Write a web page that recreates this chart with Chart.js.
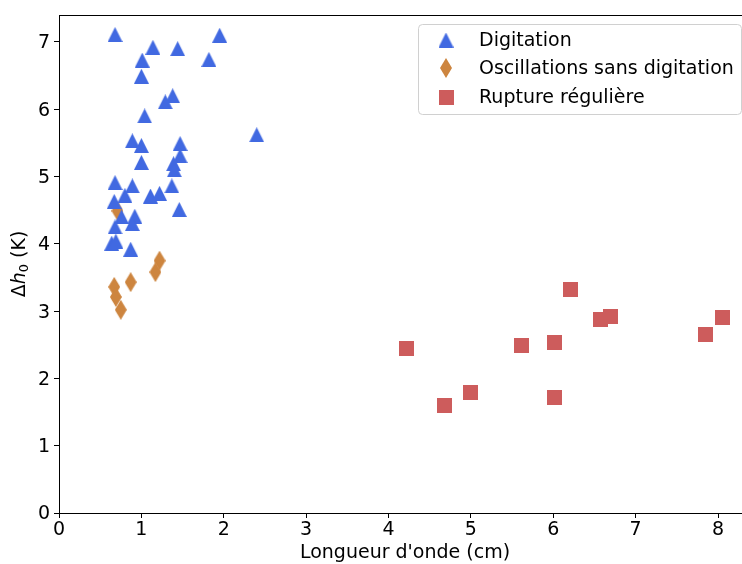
<!DOCTYPE html>
<html><head><meta charset="utf-8">
<script src="https://cdn.jsdelivr.net/npm/chart.js@4/dist/chart.umd.min.js"></script>
<style>html,body{margin:0;padding:0;background:#fff;overflow:hidden}canvas{display:block}</style>
</head><body><canvas id="c" width="742" height="564" style="width:742px;height:564px"></canvas>
<script>
const seriesLabels = ["Digitation", "Oscillations sans digitation", "Rupture régulière"];
const seriesColors = ["#4169E1", "#CD853F", "#CD5C5C"];

const digitationX = [0.68,1.95,1.14,1.44,1.01,1.82,1.00,1.38,1.29,1.04,2.40,0.89,1.00,1.47,1.47,1.00,1.39,1.40,0.68,0.89,1.37,0.80,1.11,1.22,0.67,1.46,0.76,0.92,0.89,0.68,0.64,0.69,0.87];
const digitationY = [7.11,7.10,6.92,6.90,6.73,6.74,6.49,6.20,6.11,5.90,5.62,5.53,5.46,5.49,5.31,5.21,5.19,5.10,4.91,4.86,4.86,4.72,4.71,4.75,4.63,4.51,4.40,4.41,4.30,4.25,4.01,4.04,3.92];

const oscX = [0.71,1.22,1.17,0.87,0.67,0.69,0.75];
const oscY = [4.49,3.75,3.58,3.43,3.36,3.21,3.02];

const ruptureX = [4.22,4.68,5.00,5.62,6.02,6.02,6.21,6.57,6.69,7.85,8.05];
const ruptureY = [2.44,1.59,1.79,2.49,2.53,1.71,3.32,2.88,2.92,2.65,2.90];

const xTicks = [0,1,2,3,4,5,6,7,8];
const yTicks = [0,1,2,3,4,5,6,7];
const xTitle = "Longueur d'onde (cm)";
const yTitleParts = ["Δ", "h", "0", " (K)"];

const FONT = "'DejaVu Sans', sans-serif";
const FS = 19;
// plot frame (the right edge of the axes lies just outside the cropped picture)
const AREA = { left: 59, top: 15, right: 751, bottom: 513 };

function makeMarker(kind, color) {
  const c = document.createElement('canvas');
  let w, h;
  if (kind === 'tri') { w = 15; h = 15; }
  else if (kind === 'dia') { w = 12; h = 20; }
  else { w = 15; h = 15; }
  c.width = w; c.height = h;
  const g = c.getContext('2d');
  g.fillStyle = color;
  g.beginPath();
  if (kind === 'tri') {
    g.moveTo(w / 2, 0); g.lineTo(w, h); g.lineTo(0, h);
  } else if (kind === 'dia') {
    g.moveTo(w / 2, 0); g.lineTo(w, h / 2); g.lineTo(w / 2, h); g.lineTo(0, h / 2);
  } else {
    g.rect(0, 0, w, h);
  }
  g.closePath(); g.fill();
  return c;
}
const markers = [makeMarker('tri', seriesColors[0]), makeMarker('dia', seriesColors[1]), makeMarker('sq', seriesColors[2])];

function pts(xs, ys) { return xs.map((x, i) => ({ x: x, y: ys[i] })); }

const areaPlugin = {
  id: 'area',
  afterLayout(chart) {
    const a = chart.chartArea;
    a.left = AREA.left; a.right = AREA.right; a.top = AREA.top; a.bottom = AREA.bottom;
    a.width = a.right - a.left; a.height = a.bottom - a.top;
    const x = chart.scales.x, y = chart.scales.y;
    x.left = a.left; x.right = a.right; x.width = a.width; x.top = a.bottom; x.bottom = chart.height; x.height = x.bottom - x.top;
    y.top = a.top; y.bottom = a.bottom; y.height = a.height; y.left = 0; y.right = a.left; y.width = a.left;
    x.configure(); y.configure();
  }
};

const framePlugin = {
  id: 'frame',
  afterDraw(chart) {
    const ctx = chart.ctx, a = chart.chartArea;
    ctx.save();
    ctx.strokeStyle = '#000'; ctx.lineWidth = 1;
    ctx.beginPath();
    ctx.moveTo(a.left, Math.round(a.top) + 0.5); ctx.lineTo(a.right, Math.round(a.top) + 0.5);
    ctx.moveTo(Math.round(a.right) - 0.5, a.top); ctx.lineTo(Math.round(a.right) - 0.5, a.bottom);
    ctx.stroke();

    // y title
    ctx.translate(20, (a.top + a.bottom) / 2);
    ctx.rotate(-Math.PI / 2);
    ctx.fillStyle = '#000';
    ctx.textBaseline = 'middle';
    const f1 = FS + "px " + FONT, fi = "italic " + FS + "px " + FONT, fs = "13px " + FONT;
    const parts = [[yTitleParts[0], f1, 0], [yTitleParts[1], fi, 0], [yTitleParts[2], fs, 5], [yTitleParts[3], f1, 0]];
    let total = 0;
    parts.forEach(p => { ctx.font = p[1]; total += ctx.measureText(p[0]).width; });
    let x = -total / 2;
    parts.forEach(p => { ctx.font = p[1]; ctx.fillText(p[0], x, p[2]); x += ctx.measureText(p[0]).width; });
    ctx.restore();

    // legend
    ctx.save();
    const bx = 418.5, by = 24.5, bw = 323, bh = 90, r = 4;
    ctx.fillStyle = 'rgba(255,255,255,0.8)';
    ctx.strokeStyle = '#d0d0d0'; ctx.lineWidth = 1;
    ctx.beginPath();
    ctx.moveTo(bx + r, by); ctx.lineTo(bx + bw - r, by); ctx.arcTo(bx + bw, by, bx + bw, by + r, r);
    ctx.lineTo(bx + bw, by + bh - r); ctx.arcTo(bx + bw, by + bh, bx + bw - r, by + bh, r);
    ctx.lineTo(bx + r, by + bh); ctx.arcTo(bx, by + bh, bx, by + bh - r, r);
    ctx.lineTo(bx, by + r); ctx.arcTo(bx, by, bx + r, by, r);
    ctx.closePath(); ctx.fill(); ctx.stroke();
    const rows = [40, 68, 97];
    ctx.font = FS + "px " + FONT; ctx.fillStyle = '#000'; ctx.textBaseline = 'middle';
    chart.data.datasets.forEach((ds, i) => {
      const m = markers[i];
      ctx.drawImage(m, 446 - m.width / 2, rows[i] - m.height / 2);
      ctx.fillText(ds.label, 479, rows[i] + 1);
    });
    ctx.restore();
  }
};

new Chart(document.getElementById('c'), {
  type: 'scatter',
  data: {
    datasets: [
      { label: seriesLabels[0], data: pts(digitationX, digitationY), pointStyle: markers[0], backgroundColor: seriesColors[0] },
      { label: seriesLabels[1], data: pts(oscX, oscY), pointStyle: markers[1], backgroundColor: seriesColors[1] },
      { label: seriesLabels[2], data: pts(ruptureX, ruptureY), pointStyle: markers[2], backgroundColor: seriesColors[2] }
    ]
  },
  options: {
    responsive: false, maintainAspectRatio: false, animation: false,
    devicePixelRatio: 1,
    layout: { padding: { top: 15, right: 1, left: 0, bottom: 0 } },
    plugins: { legend: { display: false }, tooltip: { enabled: false } },
    scales: {
      x: {
        type: 'linear', min: 0, max: 8.40,
        afterBuildTicks: s => { s.ticks = xTicks.map(v => ({ value: v })); },
        grid: { drawOnChartArea: false, tickLength: 5, color: '#000', tickColor: '#000' },
        border: { color: '#000', width: 1 },
        ticks: { color: '#000', font: { family: FONT, size: FS }, padding: 1, maxRotation: 0 },
        title: { display: true, text: xTitle, color: '#000', font: { family: FONT, size: FS }, padding: { top: 2, bottom: 0 } }
      },
      y: {
        type: 'linear', min: 0, max: 7.4,
        afterBuildTicks: s => { s.ticks = yTicks.map(v => ({ value: v })); },
        grid: { drawOnChartArea: false, tickLength: 5, color: '#000', tickColor: '#000' },
        border: { color: '#000', width: 1 },
        ticks: { color: '#000', font: { family: FONT, size: FS }, padding: 4, labelOffset: 1.5 }
      }
    }
  },
  plugins: [areaPlugin, framePlugin]
});
</script>
</body></html>
